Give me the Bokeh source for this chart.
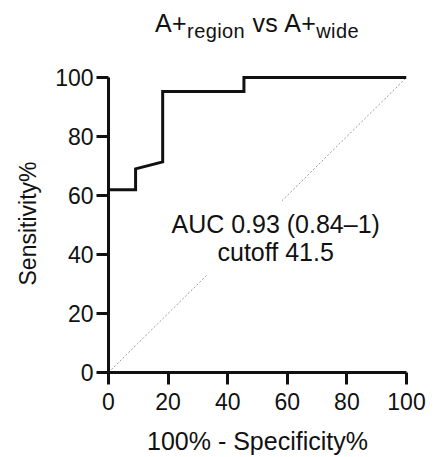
from bokeh.plotting import figure
from bokeh.models import Label, Div, Range1d
from bokeh.layouts import column
from bokeh.embed import file_html
from bokeh.resources import INLINE

# ROC curve data (100% - Specificity%, Sensitivity%)
fpr = [0, 0, 9.09, 9.09, 18.18, 18.18, 45.45, 45.45, 100]
tpr = [0, 61.9, 61.9, 69.0, 71.4, 95.2, 95.2, 100, 100]
chance_x = [0, 100]
chance_y = [0, 100]
x_ticks = [0, 20, 40, 60, 80, 100]
y_ticks = [0, 20, 40, 60, 80, 100]
auc_text = "AUC 0.93 (0.84\u20131)"
cutoff_text = "cutoff 41.5"
x_label = "100% - Specificity%"
y_label = "Sensitivity%"

FONT = "Liberation Sans"
INK = "#111111"

title_div = Div(
    text=(
        '<div style="width:298px;padding-top:8px;font-family:\'Liberation Sans\';'
        'font-size:25px;line-height:30px;text-align:center;color:#111;'
        'letter-spacing:0.4px;white-space:nowrap;">'
        'A+<span style="font-size:20px;position:relative;top:6px;">region</span>'
        ' vs A+<span style="font-size:20px;position:relative;top:6px;">wide</span></div>'
    ),
    width=298, height=48, margin=(0, 0, 0, 108),
)

p = figure(
    width=428, height=409,
    x_range=Range1d(0, 100), y_range=Range1d(0, 101),
    output_backend="svg", toolbar_location=None,
    min_border_left=108, min_border_right=22,
    min_border_top=26, min_border_bottom=82,
)
p.outline_line_color = None
p.xgrid.visible = False
p.ygrid.visible = False
p.background_fill_color = "white"
p.border_fill_color = "white"

# chance diagonal
p.line(chance_x, chance_y, line_color="#9a9a9a", line_width=1, line_dash="2 2")
# ROC curve
p.line(fpr, tpr, line_color=INK, line_width=3, line_join="miter")

for ax in (p.xaxis[0], p.yaxis[0]):
    ax.axis_line_color = INK
    ax.axis_line_width = 3
    ax.major_tick_line_color = INK
    ax.major_tick_line_width = 3
    ax.major_tick_in = 0
    ax.major_tick_out = 12
    ax.minor_tick_line_color = None
    ax.major_label_text_font = FONT
    ax.major_label_text_font_size = "23px"
    ax.major_label_text_color = INK
    ax.axis_label_text_font = FONT
    ax.axis_label_text_font_style = "normal"
    ax.axis_label_text_color = INK

p.xaxis.ticker = x_ticks
p.yaxis.ticker = y_ticks
p.yaxis.bounds = (0, 100)
p.xaxis.major_label_standoff = 8
p.yaxis.major_label_standoff = 3
p.xaxis.axis_label = x_label
p.yaxis.axis_label = y_label
p.xaxis.axis_label_text_font_size = "25px"
p.yaxis.axis_label_text_font_size = "23px"
p.xaxis.axis_label_standoff = 14
p.yaxis.axis_label_standoff = 11

p.add_layout(Label(
    x=56.1, y=45.6, text=auc_text + "\n" + cutoff_text,
    text_font=FONT, text_font_size="25px", text_color=INK,
    text_align="center", text_baseline="middle", text_line_height=1.0,
    background_fill_color="white", padding=8,
))

layout = column(title_div, p, spacing=0)
open("out.html", "w").write(file_html(layout, INLINE))
